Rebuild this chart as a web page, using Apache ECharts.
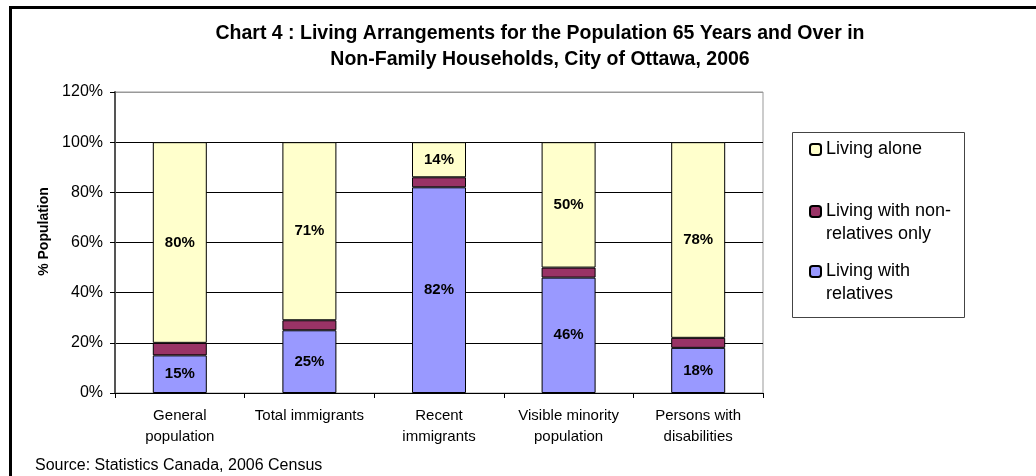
<!DOCTYPE html>
<html>
<head>
<meta charset="utf-8">
<script src="https://cdn.jsdelivr.net/npm/echarts@6/dist/echarts.min.js"></script>
<style>
  html, body { margin: 0; padding: 0; background: #fff; }
  #chart { width: 1036px; height: 476px; }
</style>
</head>
<body>
<div id="chart"></div>
<script>
const categories = ['General\npopulation', 'Total immigrants', 'Recent\nimmigrants', 'Visible minority\npopulation', 'Persons with\ndisabilities']
const withRelatives = [15, 25, 82, 46, 18]
const nonRelativesOnly = [5, 4, 4, 4, 4]
const livingAlone = [80, 71, 14, 50, 78]
const yTicks = [0, 20, 40, 60, 80, 100, 120]

const FONT = '"Liberation Sans", Arial, sans-serif'
const edge = { borderColor: '#000', borderWidth: 1 }
const barLabel = {
  show: true,
  position: 'inside',
  formatter: (p) => p.value + '%',
  color: '#000',
  fontFamily: FONT,
  fontWeight: 'bold',
  fontSize: 15,
}

const chart = echarts.init(document.getElementById('chart'), null, { renderer: 'canvas' })

// one legend per item so the icon sits on the first text line, like the original
function legendFor(name, top, twoLines) {
  return {
    data: [name],
    orient: 'vertical',
    left: 809,
    top: top,
    padding: 0,
    itemWidth: 11,
    itemHeight: 11,
    itemGap: 0,
    selectedMode: false,
    formatter: twoLines ? (n) => '\n' + n.replace(' non-', ' non-\n').replace('with rel', 'with\nrel') : (n) => n,
    textStyle: { fontFamily: FONT, fontSize: 18, color: '#000', lineHeight: 23 },
  }
}

chart.setOption({
  animation: false,
  backgroundColor: '#fff',
  title: {
    text: 'Chart 4 : Living Arrangements for the Population 65 Years and Over in\nNon-Family Households, City of Ottawa, 2006',
    left: 535,
    top: 16,
    textAlign: 'center',
    textStyle: { fontFamily: FONT, fontSize: 19.5, fontWeight: 'bold', color: '#000', lineHeight: 26 },
  },
  legend: [
    legendFor('Living alone', 138, false),
    legendFor('Living with non-relatives only', 177, true),
    legendFor('Living with relatives', 237, true),
  ],
  grid: { left: 115, right: 273, top: 92, bottom: 83, show: true, borderColor: '#999', borderWidth: 1 },
  xAxis: {
    type: 'category',
    data: categories,
    axisLine: { lineStyle: { color: '#000', width: 1 } },
    axisTick: { show: true, length: 5, lineStyle: { color: '#000' } },
    axisLabel: { color: '#000', fontFamily: FONT, fontSize: 15, lineHeight: 21, margin: 12, interval: 0 },
  },
  yAxis: {
    type: 'value',
    min: yTicks[0],
    max: yTicks[yTicks.length - 1],
    interval: 20,
    name: '% Population',
    nameLocation: 'middle',
    nameGap: 63,
    nameTextStyle: { fontFamily: FONT, fontSize: 14, fontWeight: 'bold', color: '#000', padding: [0, 0, 0, 22] },
    axisLine: { show: true, lineStyle: { color: '#555', width: 2 } },
    axisTick: { show: true, length: 5, lineStyle: { color: '#000' } },
    axisLabel: { color: '#000', fontFamily: FONT, fontSize: 16, margin: 12, formatter: '{value}%' },
    splitLine: { show: true, lineStyle: { color: ['#000', '#000', '#000', '#000', '#000', '#000', '#999'], width: 1 } },
  },
  series: [
    {
      name: 'Living with relatives',
      type: 'bar',
      stack: 'all',
      barWidth: 54,
      data: withRelatives,
      itemStyle: { color: '#9999FF', ...edge },
      label: barLabel,
    },
    {
      name: 'Living with non-relatives only',
      type: 'bar',
      stack: 'all',
      barWidth: 54,
      data: nonRelativesOnly,
      itemStyle: { color: '#993366', ...edge },
    },
    {
      name: 'Living alone',
      type: 'bar',
      stack: 'all',
      barWidth: 54,
      data: livingAlone,
      itemStyle: { color: '#FFFFCC', ...edge },
      label: barLabel,
    },
  ],
  graphic: [
    { type: 'rect', shape: { x: 9, y: 6, width: 1027, height: 3 }, style: { fill: '#000' }, silent: true },
    { type: 'rect', shape: { x: 9, y: 6, width: 3, height: 470 }, style: { fill: '#000' }, silent: true },
    { type: 'rect', shape: { x: 792.5, y: 132.5, width: 172, height: 185 }, style: { fill: 'none', stroke: '#444', lineWidth: 1 }, silent: true, z: -1 },
    {
      type: 'text',
      left: 35,
      top: 458,
      style: { text: 'Source: Statistics Canada, 2006 Census', fill: '#000', font: '16px ' + FONT },
      silent: true,
    },
  ],
})
</script>
</body>
</html>
